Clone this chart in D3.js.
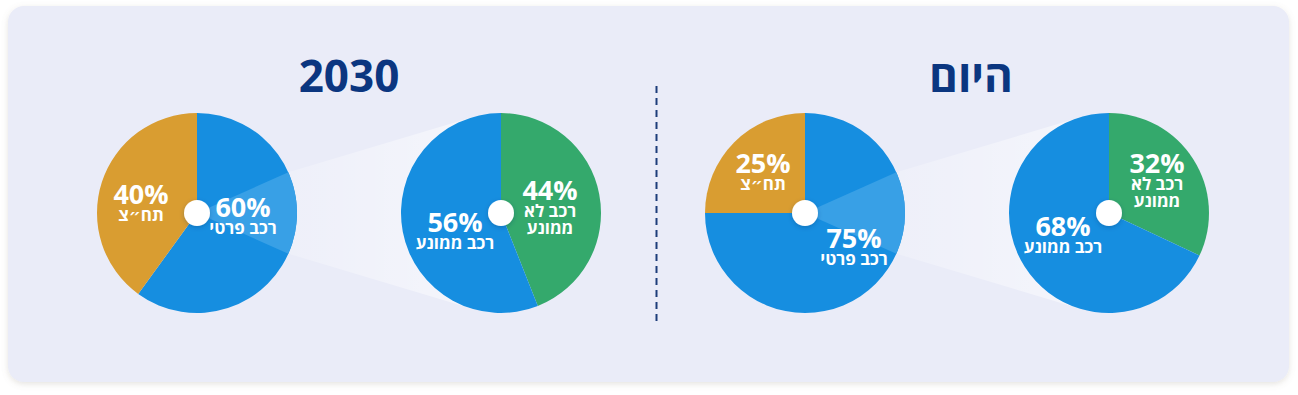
<!DOCTYPE html>
<html>
<head>
<meta charset="utf-8">
<script src="https://cdn.jsdelivr.net/npm/d3@7"></script>
<style>
  html, body { margin: 0; padding: 0; background: #ffffff; }
  svg { display: block; font-family: "Open Sans", "DejaVu Sans", sans-serif; }
</style>
</head>
<body>
<div id="chart"></div>
<script>
// Data
var periods = ["2030", "היום"];
var modeLabels = [["רכב פרטי"], ["תח״צ"]];            // private car, public transport
var modeShare2030 = [60, 40];
var modeShareToday = [75, 25];
var fuelLabels = [["רכב לא", "ממונע"], ["רכב ממונע"]]; // non-motorised, motorised
var fuelShare2030 = [44, 56];
var fuelShareToday = [32, 68];

var cfg = {
  w: 1298,
  h: 395,
  cy: 213,        // vertical centre of the pies
  radius: 100,
  dot: 13,        // white centre dot
  wedge: 24,      // half angle (deg) of the highlighted slice on the small pie
  titleY: 92
};

var colors = {
  bg: "#eaecf8",
  blue: "#168ee0",
  blueLight: "#38a0e6",
  orange: "#d99d31",
  green: "#34a96c",
  navy: "#0b3680"
};

// label anchors relative to each pie centre (layout only)
var labelOffsets = {
  mode2030: [[46, 4], [-56, -9]],
  fuel2030: [[49, -13], [-46, 19]],
  modeToday: [[49, 35], [-42, -40]],
  fuelToday: [[48, -40], [-46, 23]]
};

var svg = d3.select("#chart").append("svg")
  .attr("width", cfg.w)
  .attr("height", cfg.h);

var defs = svg.append("defs");

var cardShadow = defs.append("filter").attr("id", "cardShadow")
  .attr("x", "-5%").attr("y", "-10%").attr("width", "110%").attr("height", "120%");
cardShadow.append("feDropShadow")
  .attr("dx", 0).attr("dy", 2).attr("stdDeviation", 3)
  .attr("flood-color", "#8a7f70").attr("flood-opacity", 0.22);

var dotShadow = defs.append("filter").attr("id", "dotShadow")
  .attr("x", "-50%").attr("y", "-50%").attr("width", "200%").attr("height", "200%");
dotShadow.append("feDropShadow")
  .attr("dx", 0).attr("dy", 1.5).attr("stdDeviation", 2)
  .attr("flood-color", "#0a3a70").attr("flood-opacity", 0.3);

var funnelGrad = defs.append("linearGradient").attr("id", "funnelGrad")
  .attr("x1", "0%").attr("x2", "100%").attr("y1", "0%").attr("y2", "0%");
funnelGrad.append("stop").attr("offset", "0%").attr("stop-color", "#ffffff").attr("stop-opacity", 0.2);
funnelGrad.append("stop").attr("offset", "100%").attr("stop-color", "#ffffff").attr("stop-opacity", 0.55);

// card
svg.append("rect")
  .attr("x", 8).attr("y", 6)
  .attr("width", 1281).attr("height", 376)
  .attr("rx", 16).attr("ry", 16)
  .attr("fill", colors.bg)
  .attr("filter", "url(#cardShadow)");

// one column per pie: mode share then fuel share, for each period
var columns = ["mode2030", "fuel2030", "modeToday", "fuelToday"];
var x = d3.scalePoint().domain(columns).range([197, 1109]);

var pie = d3.pie().sort(null).value(function(d) { return d.value; });
var arc = d3.arc().innerRadius(0).outerRadius(cfg.radius);

var groups = [
  {
    title: periods[0],
    mode: { key: "mode2030", values: modeShare2030 },
    fuel: { key: "fuel2030", values: fuelShare2030 }
  },
  {
    title: periods[1],
    mode: { key: "modeToday", values: modeShareToday },
    fuel: { key: "fuelToday", values: fuelShareToday }
  }
];

// tangent point from external point p to circle (c, r); side = +1 upper, -1 lower
function tangentPoint(p, c, r, side) {
  var dx = p[0] - c[0], dy = p[1] - c[1];
  var d = Math.sqrt(dx * dx + dy * dy);
  var base = Math.atan2(dy, dx);
  var a = Math.acos(r / d);
  var ang = base + side * a;
  return [c[0] + r * Math.cos(ang), c[1] + r * Math.sin(ang)];
}

function drawPie(g, values, labels, fills, key) {
  var data = values.map(function(v, i) { return { value: v, label: labels[i], fill: fills[i] }; });
  var slices = pie(data);
  var cx = x(key);
  var pg = g.append("g").attr("transform", "translate(" + cx + "," + cfg.cy + ")");
  pg.selectAll("path.slice")
    .data(slices)
    .enter().append("path")
    .attr("class", "slice")
    .attr("d", arc)
    .attr("fill", function(d) { return d.data.fill; });
  return { g: pg, slices: slices, cx: cx };
}

function drawLabels(p, key) {
  var offs = labelOffsets[key];
  var t = p.g.selectAll("g.lbl")
    .data(p.slices)
    .enter().append("g")
    .attr("class", "lbl")
    .attr("fill", "#ffffff")
    .attr("font-weight", 700)
    .attr("text-anchor", "middle")
    .attr("transform", function(d, i) { return "translate(" + offs[i][0] + "," + offs[i][1] + ")"; });
  t.append("text")
    .attr("x", 0).attr("y", 0)
    .attr("font-size", 27)
    .text(function(d) { return d.data.value + "%"; });
  t.each(function(d) {
    var el = d3.select(this);
    d.data.label.forEach(function(line, j) {
      el.append("text")
        .attr("x", 0)
        .attr("y", 16.5 + 17.5 * j)
        .attr("font-size", 17)
        .attr("direction", "rtl")
        .text(line);
    });
  });
}

groups.forEach(function(grp) {
  var g = svg.append("g");
  var r = cfg.radius;
  var sx = x(grp.mode.key), bx = x(grp.fuel.key);
  var w = cfg.wedge * Math.PI / 180;

  // funnel from highlighted slice of the small pie to the big pie
  var p1 = [sx + r * Math.cos(-w), cfg.cy + r * Math.sin(-w)];
  var p2 = [sx + r * Math.cos(w), cfg.cy + r * Math.sin(w)];
  var t1 = tangentPoint(p1, [bx, cfg.cy], r, 1);
  var t2 = tangentPoint(p2, [bx, cfg.cy], r, -1);
  g.append("path")
    .attr("d", d3.line()([p1, t1, [bx, cfg.cy], t2, p2]) + "Z")
    .attr("fill", "url(#funnelGrad)");

  var small = drawPie(g, grp.mode.values, modeLabels, [colors.blue, colors.orange], grp.mode.key);
  // highlighted part of the private car slice
  small.g.append("path")
    .attr("d", d3.arc().innerRadius(0).outerRadius(r)
      .startAngle(Math.PI / 2 - w).endAngle(Math.PI / 2 + w)())
    .attr("fill", colors.blueLight);

  var big = drawPie(g, grp.fuel.values, fuelLabels, [colors.green, colors.blue], grp.fuel.key);

  [small, big].forEach(function(p) {
    p.g.append("circle")
      .attr("r", cfg.dot)
      .attr("fill", "#ffffff")
      .attr("filter", "url(#dotShadow)");
  });

  drawLabels(small, grp.mode.key);
  drawLabels(big, grp.fuel.key);

  g.append("text")
    .attr("x", grp.title === "2030" ? (sx + bx) / 2 : (sx + bx) / 2 + 14)
    .attr("y", cfg.titleY)
    .attr("text-anchor", "middle")
    .attr("font-size", 44)
    .attr("font-weight", 700)
    .attr("fill", colors.navy)
    .text(grp.title);
});

// divider
svg.append("line")
  .attr("x1", 656.5).attr("x2", 656.5)
  .attr("y1", 86).attr("y2", 322)
  .attr("stroke", "#1d3d7a")
  .attr("stroke-width", 2)
  .attr("stroke-dasharray", "7,5");
</script>
</body>
</html>
